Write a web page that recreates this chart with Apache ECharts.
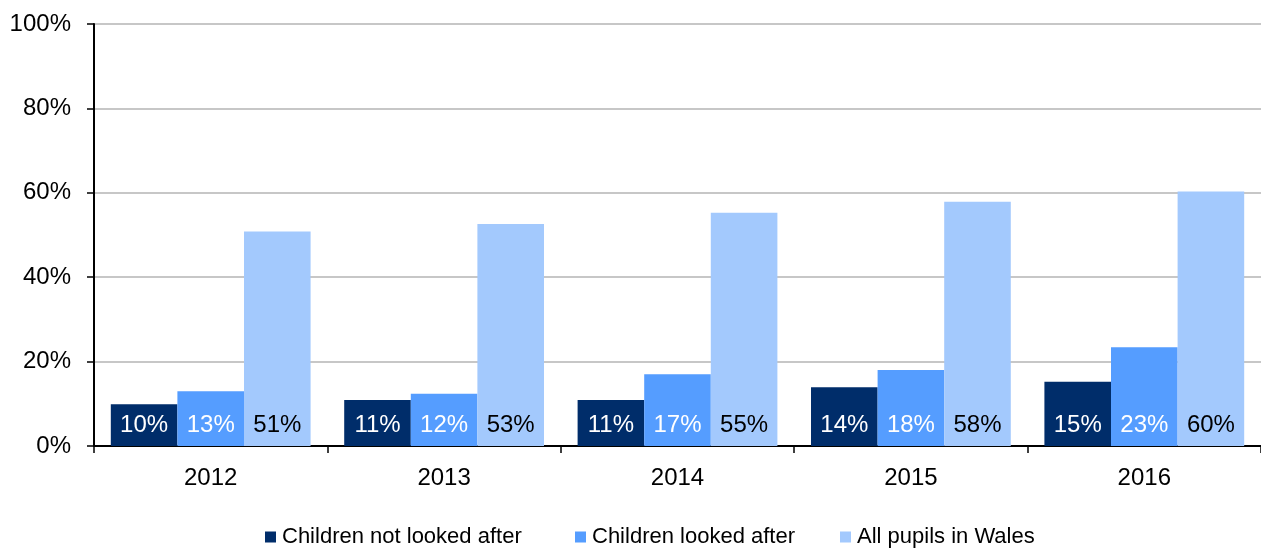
<!DOCTYPE html>
<html>
<head>
<meta charset="utf-8">
<script src="https://cdn.jsdelivr.net/npm/echarts@6/dist/echarts.min.js"></script>
<style>
  html, body { margin: 0; padding: 0; background: #ffffff; }
  #chart { width: 1261px; height: 549px; }
</style>
</head>
<body>
<div id="chart"></div>
<script>
// Percentage of pupils, by year and group
const years = ['2012', '2013', '2014', '2015', '2016'];
const notLookedAfter = [9.9, 10.9, 10.9, 13.9, 15.2];
const lookedAfter = [13.0, 12.4, 17.0, 18.0, 23.4];
const allPupilsWales = [50.8, 52.6, 55.3, 57.9, 60.3];
const yTicks = { min: 0, max: 100, interval: 20 };

const seriesNames = ['Children not looked after', 'Children looked after', 'All pupils in Wales'];
const seriesColors = ['#002d6a', '#559dff', '#a3c9fd'];
const labelColors = ['#ffffff', '#ffffff', '#000000'];
const seriesValues = [notLookedAfter, lookedAfter, allPupilsWales];

const FONT = '"Liberation Sans", Arial, sans-serif';
const chart = echarts.init(document.getElementById('chart'), null, { renderer: 'canvas' });

const legendLeft = [260, 570, 835];

chart.setOption({
  animation: false,
  backgroundColor: '#ffffff',
  grid: { left: 94, right: -13, top: 24, bottom: 103, containLabel: false },
  legend: seriesNames.map((name, i) => ({
    data: [name],
    left: legendLeft[i],
    top: 521,
    icon: 'rect',
    itemWidth: 11,
    itemHeight: 11,
    itemGap: 0,
    textStyle: { fontFamily: FONT, fontSize: 22, color: '#000000', padding: [0, 0, 0, 1] }
  })),
  xAxis: {
    type: 'category',
    data: years,
    axisLine: { lineStyle: { color: '#000000', width: 2 } },
    axisTick: { show: true, length: 7, lineStyle: { color: '#000000', width: 1.5 } },
    axisLabel: { fontFamily: FONT, fontSize: 24, color: '#000000', margin: 20 },
    splitLine: { show: false }
  },
  yAxis: {
    type: 'value',
    min: yTicks.min,
    max: yTicks.max,
    interval: yTicks.interval,
    axisLine: { show: true, lineStyle: { color: '#000000', width: 2 } },
    axisTick: { show: true, length: 7, lineStyle: { color: '#000000', width: 1.5 } },
    axisLabel: { fontFamily: FONT, fontSize: 24, color: '#000000', margin: 23, formatter: '{value}%' },
    splitLine: { show: true, lineStyle: { color: '#b4b4b4', width: 1.5 } }
  },
  series: seriesNames.map((name, i) => ({
    name: name,
    type: 'bar',
    data: seriesValues[i],
    barGap: '0%',
    barCategoryGap: '14.4%',
    itemStyle: { color: seriesColors[i] },
    label: {
      show: true,
      position: 'insideBottom',
      distance: 9,
      fontFamily: FONT,
      fontSize: 24,
      color: labelColors[i],
      formatter: p => Math.round(p.value) + '%'
    }
  }))
});
</script>
</body>
</html>
